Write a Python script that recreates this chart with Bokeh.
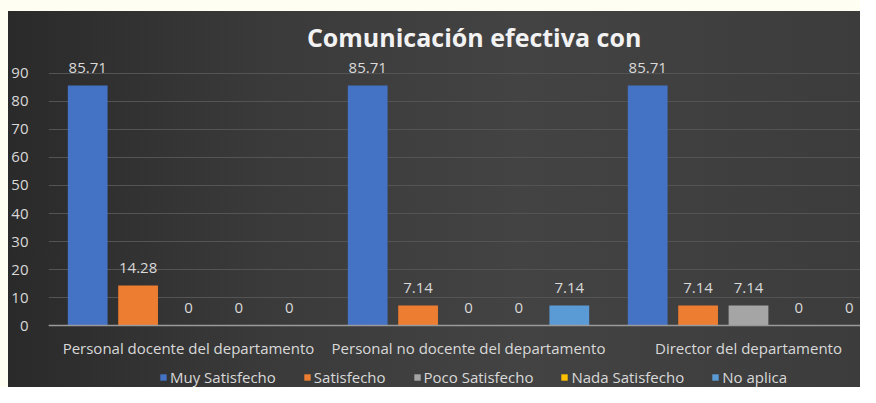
from bokeh.plotting import figure
from bokeh.layouts import column
from bokeh.models import ColumnDataSource, FixedTicker, Span, Label, Legend, LegendItem
from bokeh.core.properties import value
from bokeh.embed import file_html
from bokeh.resources import INLINE

categories = ["Personal docente del departamento",
              "Personal no docente del departamento",
              "Director del departamento"]
series_names = ["Muy Satisfecho", "Satisfecho", "Poco Satisfecho", "Nada Satisfecho", "No aplica"]
muy_satisfecho = [85.71, 85.71, 85.71]
satisfecho = [14.28, 7.14, 7.14]
poco_satisfecho = [0, 0, 7.14]
nada_satisfecho = [0, 0, 0]
no_aplica = [0, 7.14, 0]
y_ticks = [0, 10, 20, 30, 40, 50, 60, 70, 80, 90]
title_text = "Comunicación efectiva con"

series_values = [muy_satisfecho, satisfecho, poco_satisfecho, nada_satisfecho, no_aplica]
colors = ["#4472C4", "#ED7D31", "#A5A5A5", "#FFC000", "#5B9BD5"]

TXT = "#d9d9d9"
FONT = "Open Sans"
FS = "15px"

p = figure(width=852, height=376, output_backend="svg", toolbar_location=None,
           x_range=(-0.5, 2.40), y_range=(-22.14, 112.14),
           min_border_left=35, min_border_right=0, min_border_top=0, min_border_bottom=0)
p.margin = (11, 0, 0, 8)
p.styles = {"background": "linear-gradient(90deg, #2a2a2a 0%, #3a3a3a 30%, #434343 60%, #3c3c3c 100%)"}
p.background_fill_color = None
p.border_fill_color = None
p.outline_line_color = None
p.xaxis.visible = False
p.xgrid.grid_line_color = None

p.yaxis.ticker = FixedTicker(ticks=y_ticks)
p.ygrid.ticker = FixedTicker(ticks=y_ticks)
p.ygrid.grid_line_color = "#545454"
p.ygrid.grid_line_width = 1
p.yaxis.axis_line_color = None
p.yaxis.major_tick_line_color = None
p.yaxis.minor_tick_line_color = None
p.yaxis.major_label_text_color = TXT
p.yaxis.major_label_text_font = FONT
p.yaxis.major_label_text_font_size = FS
p.yaxis.major_label_standoff = 14

n = len(series_names)
step = 0.18
width = 0.142
items = []
for i, (name, vals, col) in enumerate(zip(series_names, series_values, colors)):
    off = (i - (n - 1) / 2) * step
    xs = [j + off for j in range(len(categories))]
    src = ColumnDataSource(dict(x=xs, top=vals, lbl=[f"{v:g}" for v in vals]))
    r = p.vbar(x="x", top="top", width=width, source=src, fill_color=col, line_color=None)
    p.text(x="x", y="top", text="lbl", source=src, text_align="center", text_baseline="middle",
           y_offset=-18, text_color=TXT, text_font=value(FONT), text_font_size=FS)
    items.append(LegendItem(label=name, renderers=[r]))

base = Span(location=0, dimension="width", line_color="#9a9a9a", line_width=1.5)
p.add_layout(base)

cat_src = ColumnDataSource(dict(x=list(range(len(categories))), y=[-8.2] * len(categories), t=categories))
p.text(x="x", y="y", text="t", source=cat_src, text_align="center", text_baseline="middle",
       text_color=TXT, text_font=value(FONT), text_font_size=FS)

title = Label(x=1.02, y=102.9, text=title_text, text_align="center", text_baseline="middle",
              text_color="#f2f2f2", text_font=FONT, text_font_size="25px", text_font_style="bold")
p.add_layout(title)

legend = Legend(items=items, orientation="horizontal", location=(111, 0),
                background_fill_alpha=0, border_line_color=None,
                label_text_color=TXT, label_text_font=FONT, label_text_font_size=FS,
                glyph_width=8, glyph_height=8, label_standoff=3, spacing=27,
                padding=0, margin=0, label_height=11)
p.add_layout(legend)

layout = column(p, styles={"background-color": "#FFFEF2"})
open("out.html", "w").write(file_html(layout, INLINE))
